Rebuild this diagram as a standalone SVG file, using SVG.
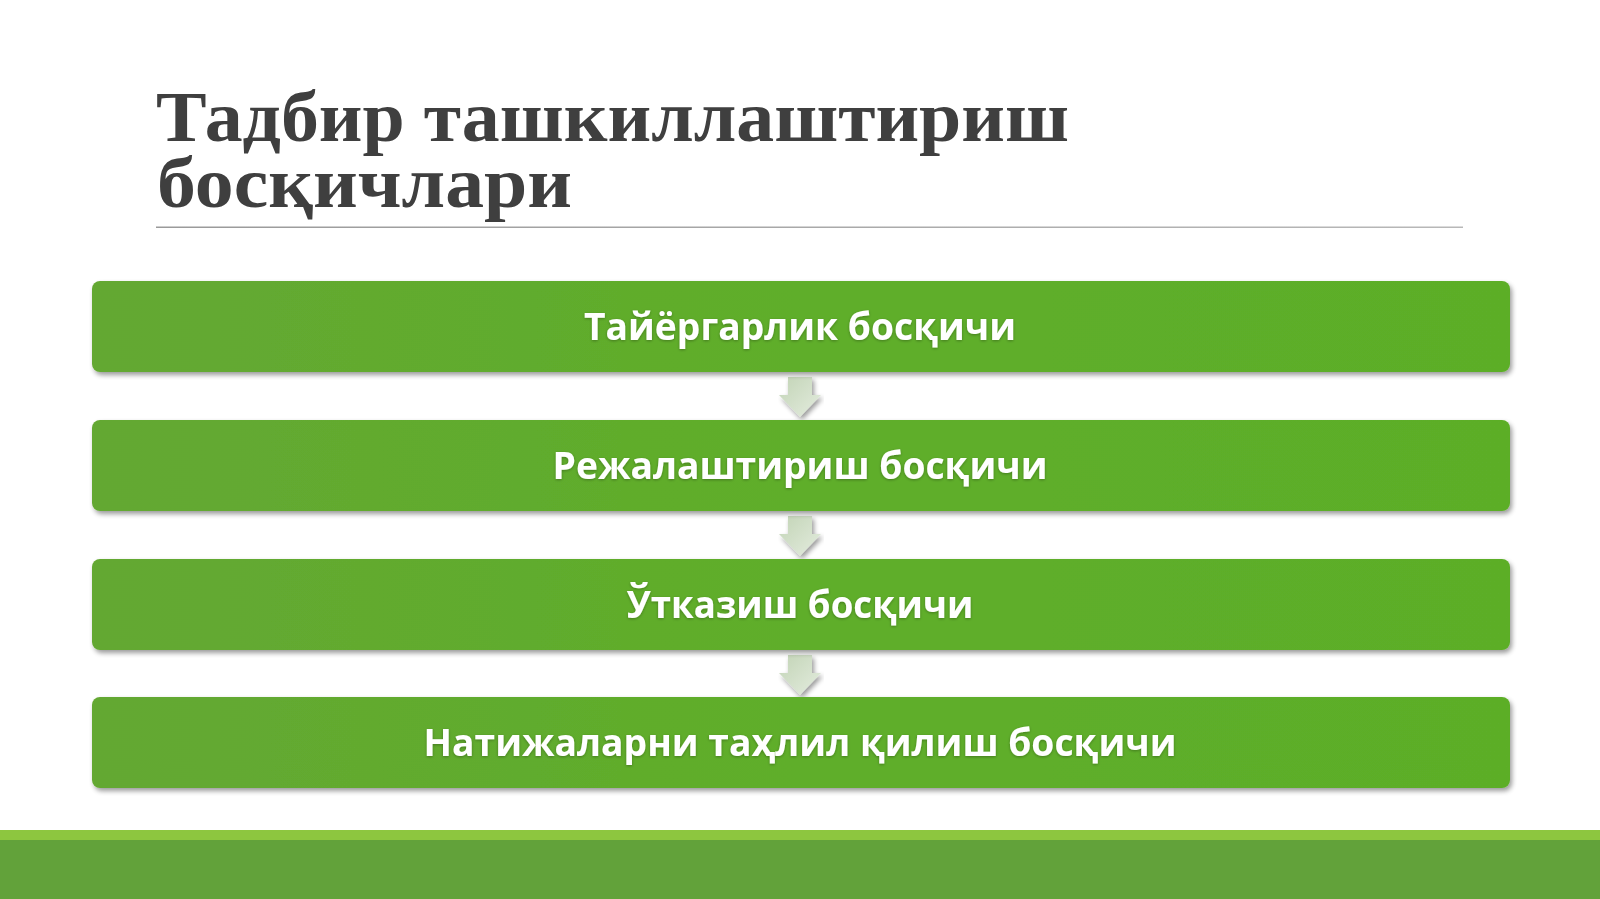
<svg xmlns="http://www.w3.org/2000/svg" width="1600" height="899" viewBox="0 0 1600 899">
<defs>
<style>
.title{font-family:"Liberation Serif","DejaVu Serif",serif;font-weight:bold;font-size:71px;fill:#3f3f3f}
.lbl{font-family:"Open Sans","Noto Sans","DejaVu Sans",sans-serif;font-weight:bold;font-size:38px;fill:#ffffff;text-anchor:middle}
.box{fill:url(#gbox)}
.arr{fill:url(#garr)}
</style>
<linearGradient id="gbox" x1="0" y1="0" x2="1" y2="0">
<stop offset="0" stop-color="#64a832"/>
<stop offset="0.5" stop-color="#5fae2a"/>
<stop offset="1" stop-color="#5cae28"/>
</linearGradient>
<linearGradient id="garr" x1="0" y1="0" x2="1" y2="1">
<stop offset="0" stop-color="#c2d4b6"/>
<stop offset="1" stop-color="#e4ecdf"/>
</linearGradient>
<linearGradient id="gline" x1="0" y1="0" x2="1" y2="0">
<stop offset="0" stop-color="#9a9a9a"/>
<stop offset="1" stop-color="#b8b8b8"/>
</linearGradient>
<filter id="sh" x="-5%" y="-20%" width="110%" height="150%">
<feGaussianBlur in="SourceAlpha" stdDeviation="2.5"/>
<feOffset dx="2" dy="3" result="b"/>
<feComponentTransfer><feFuncA type="linear" slope="0.4"/></feComponentTransfer>
<feMerge><feMergeNode/><feMergeNode in="SourceGraphic"/></feMerge>
</filter>
<filter id="tg" x="-5%" y="-30%" width="110%" height="160%">
<feGaussianBlur in="SourceAlpha" stdDeviation="1.5"/>
<feOffset dx="0" dy="1"/>
<feComponentTransfer><feFuncA type="linear" slope="0.3"/></feComponentTransfer>
<feMerge><feMergeNode/><feMergeNode in="SourceGraphic"/></feMerge>
</filter>
<path id="arrow" d="M-12,0 H12 V18 H21 L0,40 L-21,18 H-12 Z"/>
</defs>
<rect x="0" y="0" width="1600" height="899" fill="#ffffff"/>
<g id="title">
<text class="title"><tspan x="156" y="141" textLength="913" lengthAdjust="spacingAndGlyphs">Тадбир ташкиллаштириш</tspan><tspan x="157" y="207" textLength="415" lengthAdjust="spacingAndGlyphs">босқичлари</tspan></text>
<rect x="156" y="226.5" width="1307" height="1.5" fill="url(#gline)"/>
</g>
<g id="footer">
<rect x="0" y="830" width="1600" height="11" fill="#8dc63f"/>
<rect x="0" y="840" width="1600" height="59" fill="#62a23a"/>
</g>
<g id="connectors">
<use href="#arrow" class="arr" transform="translate(800,377)" filter="url(#sh)"/>
<use href="#arrow" class="arr" transform="translate(800,516)" filter="url(#sh)"/>
<use href="#arrow" class="arr" transform="translate(800,655)" filter="url(#sh)"/>
</g>
<g id="n1">
<rect class="box" x="92" y="281" width="1418" height="91" rx="8" filter="url(#sh)"/>
<text class="lbl" x="800" y="340" textLength="432" lengthAdjust="spacingAndGlyphs" filter="url(#tg)">Тайёргарлик босқичи</text>
</g>
<g id="n2">
<rect class="box" x="92" y="420" width="1418" height="91" rx="8" filter="url(#sh)"/>
<text class="lbl" x="800" y="479" textLength="495" lengthAdjust="spacingAndGlyphs" filter="url(#tg)">Режалаштириш босқичи</text>
</g>
<g id="n3">
<rect class="box" x="92" y="559" width="1418" height="91" rx="8" filter="url(#sh)"/>
<text class="lbl" x="800" y="618" textLength="347" lengthAdjust="spacingAndGlyphs" filter="url(#tg)">Ўтказиш босқичи</text>
</g>
<g id="n4">
<rect class="box" x="92" y="697" width="1418" height="91" rx="8" filter="url(#sh)"/>
<text class="lbl" x="800" y="756" textLength="753" lengthAdjust="spacingAndGlyphs" filter="url(#tg)">Натижаларни таҳлил қилиш босқичи</text>
</g>
</svg>
